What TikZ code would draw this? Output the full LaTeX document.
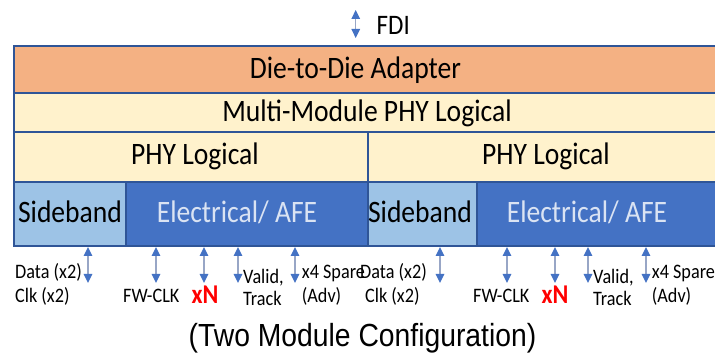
\documentclass[tikz,border=0pt]{standalone}
\usepackage{fontspec}
\setmainfont{Carlito}
\newfontfamily\capfont{Liberation Sans}
\usetikzlibrary{arrows.meta}
\definecolor{orangefill}{HTML}{F4B183}
\definecolor{creamfill}{HTML}{FFF2CC}
\definecolor{sbfill}{HTML}{9DC3E6}
\definecolor{afefill}{HTML}{4472C4}
\definecolor{edgeblue}{HTML}{2F5597}
\definecolor{afetext}{HTML}{DAE3F3}
\definecolor{shaftgray}{HTML}{98A6C6}
\definecolor{xnred}{HTML}{FF0000}
\begin{document}
\begin{tikzpicture}[x=1pt,y=-1pt,
  box/.style={draw=edgeblue,line width=1.2pt,inner sep=0pt,outer sep=0pt},
  bigtxt/.style={font=\fontsize{27.6}{30}\selectfont,inner sep=0pt,anchor=base,yscale=1.13},
  lbl/.style={font=\fontsize{18.2}{20}\selectfont,inner sep=0pt,anchor=base west,yscale=1.13},
  xn/.style={font=\fontsize{24}{26}\selectfont\bfseries,text=xnred,inner sep=0pt,anchor=base,yscale=1.13},
  sig/.style={draw=shaftgray,line width=1.3pt,
    {Triangle[width=8.5pt,length=9pt,color=afefill]}-{Triangle[width=8.5pt,length=9pt,color=afefill]}}
]
\useasboundingbox (0,0) rectangle (715,355);
\fill[white] (0,0) rectangle (715,355);

% layer boxes
\node[box,fill=orangefill,minimum width=708pt,minimum height=47pt] (d2d) at (368,69.5) {};
\node[box,fill=creamfill,minimum width=708pt,minimum height=39pt] (mm) at (368,112.5) {};
\node[box,fill=creamfill,minimum width=354pt,minimum height=50pt] (phyL) at (191,157) {};
\node[box,fill=creamfill,minimum width=354pt,minimum height=50pt] (phyR) at (545,157) {};
\node[box,fill=sbfill,minimum width=112pt,minimum height=64pt] (sbL) at (70,214) {};
\node[box,fill=afefill,minimum width=242pt,minimum height=64pt] (afeL) at (247,214) {};
\node[box,fill=sbfill,minimum width=109pt,minimum height=64pt] (sbR) at (422.5,214) {};
\node[box,fill=afefill,minimum width=245pt,minimum height=64pt] (afeR) at (599.5,214) {};

% layer titles
\node[bigtxt] (d2dT) at (355.5,79) {Die-to-Die Adapter};
\node[bigtxt] (mmT) at (367,121.5) {Multi-Module PHY Logical};
\node[bigtxt] (phyLT) at (195,165) {PHY Logical};
\node[bigtxt] (phyRT) at (546,165) {PHY Logical};
\node[bigtxt] (sbLT) at (70,223) {Sideband};
\node[bigtxt] (sbRT) at (420,223) {Sideband};
\node[bigtxt,text=afetext] (afeLT) at (237,223) {Electrical/ AFE};
\node[bigtxt,text=afetext] (afeRT) at (587,223) {Electrical/ AFE};

% FDI interface
\coordinate (fdiTop) at (355.7,10);
\coordinate (fdiBot) at (355.7,38);
\draw[sig] (fdiTop) -- (fdiBot);
\node[bigtxt,anchor=base west,font=\fontsize{25}{28}\selectfont] (fdi) at (376.5,35) {FDI};

% module signal arrows
\foreach \i/\x in {1/88,2/156,3/204,4/238,5/295,6/440,7/507,8/555,9/588,10/646}{
  \coordinate (s\i t) at (\x,247);
  \coordinate (s\i b) at (\x,283);
  \draw[sig] (s\i t) -- (s\i b);
}

% left module labels
\node[lbl] (dataL) at (15,278.3) {Data (x2)};
\node[lbl] (clkL) at (15,302.7) {Clk (x2)};
\node[lbl] (fwL) at (123,302.7) {FW-CLK};
\node[xn] (xnL) at (205,303.3) {xN};
\node[lbl] (validL) at (243,283.3) {Valid,};
\node[lbl] (trackL) at (243,306) {Track};
\node[lbl] (spareL) at (301.7,278.3) {x4 Spare};
\node[lbl] (advL) at (301.7,302.7) {(Adv)};

% right module labels
\node[lbl] (dataR) at (360,278.3) {Data (x2)};
\node[lbl] (clkR) at (365,302.7) {Clk (x2)};
\node[lbl] (fwR) at (473,302.7) {FW-CLK};
\node[xn] (xnR) at (555,303.3) {xN};
\node[lbl] (validR) at (593,283.3) {Valid,};
\node[lbl] (trackR) at (593,306) {Track};
\node[lbl] (spareR) at (651.7,278.3) {x4 Spare};
\node[lbl] (advR) at (651.7,302.7) {(Adv)};

% caption
\node[inner sep=0pt,anchor=base,yscale=1.13,font=\capfont\fontsize{28.3}{32}\selectfont] (cap) at (362.5,347) {(Two Module Configuration)};
\end{tikzpicture}
\end{document}
